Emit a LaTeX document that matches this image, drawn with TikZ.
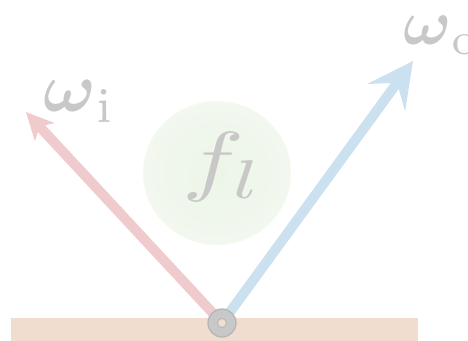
\documentclass[tikz,border=0pt]{standalone}
\usepackage{amsmath,amssymb}
\usepackage{tikz}
\usetikzlibrary{arrows.meta,positioning}
\definecolor{brdfred}{HTML}{EFCBCE}
\definecolor{brdfblue}{HTML}{CCE1F0}
\definecolor{brdfsurf}{HTML}{F1DCD0}
\definecolor{brdfgray}{HTML}{C8C8C8}
\definecolor{brdfring}{HTML}{B4B4B4}
\definecolor{brdfglow}{HTML}{EDF5E8}
\pgfdeclareradialshading{brdfhalo}{\pgfpoint{0bp}{0bp}}{color(0bp)=(brdfglow); color(18bp)=(brdfglow!85!white); color(38bp)=(brdfglow!30!white); color(50bp)=(white)}

\begin{document}
\begin{tikzpicture}[x=0.5pt,y=-0.5pt,
  ray/.style={line width=5pt},
  inray/.style={ray,brdfred,-{Stealth[length=13.5pt,width=13pt,inset=3.5pt]}},
  outray/.style={ray,brdfblue,-{Stealth[length=22.5pt,width=23pt,inset=9pt]}},
  lbl/.style={text=brdfgray,inner sep=0pt,scale=3.5},
  hitmark/.style={circle,draw=brdfring,fill=brdfgray,line width=0.6pt,minimum size=14pt,inner sep=0pt},
  hole/.style={circle,fill=brdfsurf,draw=brdfring,line width=0.4pt,minimum size=4.5pt,inner sep=0pt}]
  \useasboundingbox (0,0) rectangle (468,341);
  \shade[shading=brdfhalo] (217,173) ellipse (74 and 72);
  \node[lbl,scale=3.9/3.5,xscale=1.33,anchor=base west] (brdf) at (180,187) {$f_l$};
  \fill[brdfsurf] (11,318) rectangle (418,341);
  \coordinate (hit) at (222,323);
  \coordinate (tipi) at (26,112);
  \coordinate (tipo) at (413,61);
  \draw[inray] (hit) -- (tipi);
  \draw[outray] (hit) -- (tipo);
  \node[hitmark] (hitring) at (hit) {};
  \node[hole] (hitcentre) at (hit) {};
  \node[lbl,anchor=base west] (wi) at (42,112) {$\boldsymbol{\omega}_{\mathrm{i}}$};
  \node[lbl,scale=3.2/3.5,anchor=base west] (wo) at (402,45) {$\boldsymbol{\omega}_{\mathrm{o}}$};
\end{tikzpicture}
\end{document}
